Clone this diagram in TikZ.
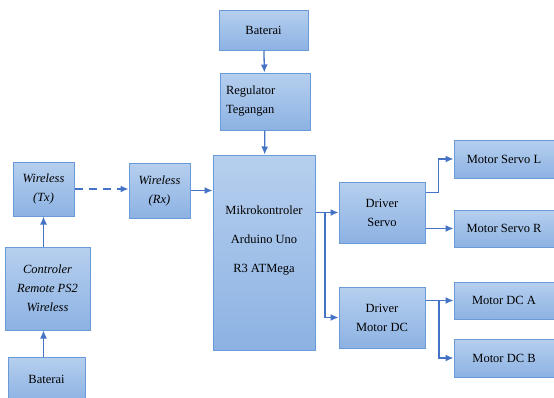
\documentclass[tikz,border=0pt]{standalone}
\usepackage{fontspec}
\newfontfamily\huruf{Liberation Serif}
\usepackage{tikz}
\usetikzlibrary{arrows.meta, positioning}
\definecolor{garis}{RGB}{68,114,196}
\definecolor{tepi}{RGB}{106,155,216}
\definecolor{atas}{RGB}{182,207,238}
\definecolor{bawah}{RGB}{140,178,227}
\tikzstyle{blok} = [rectangle, draw=tepi, line width=1pt, top color=atas, bottom color=bawah, font=\huruf\fontsize{12.5}{19}\selectfont, inner sep=2pt]
\tikzstyle{line} = [draw, garis, line width=1.3pt, -{Latex[length=8pt, width=7pt]}]

\begin{document}
\begin{tikzpicture}[x=1pt, y=-1pt]
			\useasboundingbox (0,0) rectangle (554,397);
			\node [blok, minimum width=89, minimum height=40] (bat1) at (263.5, 30) {Baterai};
			\node [blok, minimum width=90, minimum height=57, align=left, text width=78] (reg) at (265, 101.5) {Regulator\\Tegangan};
			\node [blok, minimum width=102, minimum height=195] (mcu) at (264, 252.5) {};
			\node [align=center, font=\huruf\fontsize{12.5}{29}\selectfont] (mcutxt) at (264, 241) {Mikrokontroler\\Arduino Uno\\R3 ATMega};
			\node [blok, minimum width=61, minimum height=54, align=center, font=\huruf\fontsize{12.5}{19}\selectfont\itshape] (tx) at (43.5, 189) {Wireless\\(Tx)};
			\node [blok, minimum width=61, minimum height=55, align=center, font=\huruf\fontsize{12.5}{19}\selectfont\itshape] (rx) at (159.5, 190.5) {Wireless\\(Rx)};
			\node [blok, minimum width=85, minimum height=83, align=center, font=\huruf\fontsize{12.5}{19}\selectfont\itshape] (ctrl) at (47.5, 288.5) {Controler\\Remote PS2\\Wireless};
			\node [blok, minimum width=77, minimum height=44] (bat2) at (46.5, 379) {Baterai};
			\node [blok, minimum width=86, minimum height=61, align=center] (drvs) at (382, 212.5) {Driver\\Servo};
			\node [blok, minimum width=86, minimum height=61, align=center] (drvm) at (382, 317.5) {Driver\\Motor DC};
			\node [blok, minimum width=100, minimum height=38] (msl) at (504, 159) {Motor Servo L};
			\node [blok, minimum width=100, minimum height=37] (msr) at (504, 228.5) {Motor Servo R};
			\node [blok, minimum width=100, minimum height=37] (mda) at (504, 300.5) {Motor DC A};
			\node [blok, minimum width=100, minimum height=38] (mdb) at (504, 358) {Motor DC B};
			\coordinate (cabang1) at (325, 212.5);
			\coordinate (cabang2) at (439, 300.5);

			\path [line] (bat1) -- (reg);
			\path [line] (reg) -- (mcu);
			\path [line, dash pattern=on 8pt off 6pt] (tx.east) -- (tx.east -| rx.west);
			\path [line] (rx.east) -- (rx.east -| mcu.west);
			\path [line] (ctrl.north -| tx.south) -- (tx.south);
			\path [line] (bat2.north -| tx.south) -- (ctrl.south -| tx.south);
			\path [line] (mcu.east |- drvs.west) -- (drvs.west);
			\path [line] (cabang1) |- (drvm.west);
			\path [line] ([yshift=20pt]drvs.east) -- ++(13,0) |- (msl.west);
			\path [line] (msr.west -| drvs.east) -- (msr.west);
			\path [line] (mda.west -| drvm.east) -- (mda.west);
			\path [line] (cabang2) |- (mdb.west);
		\end{tikzpicture}
\end{document}
